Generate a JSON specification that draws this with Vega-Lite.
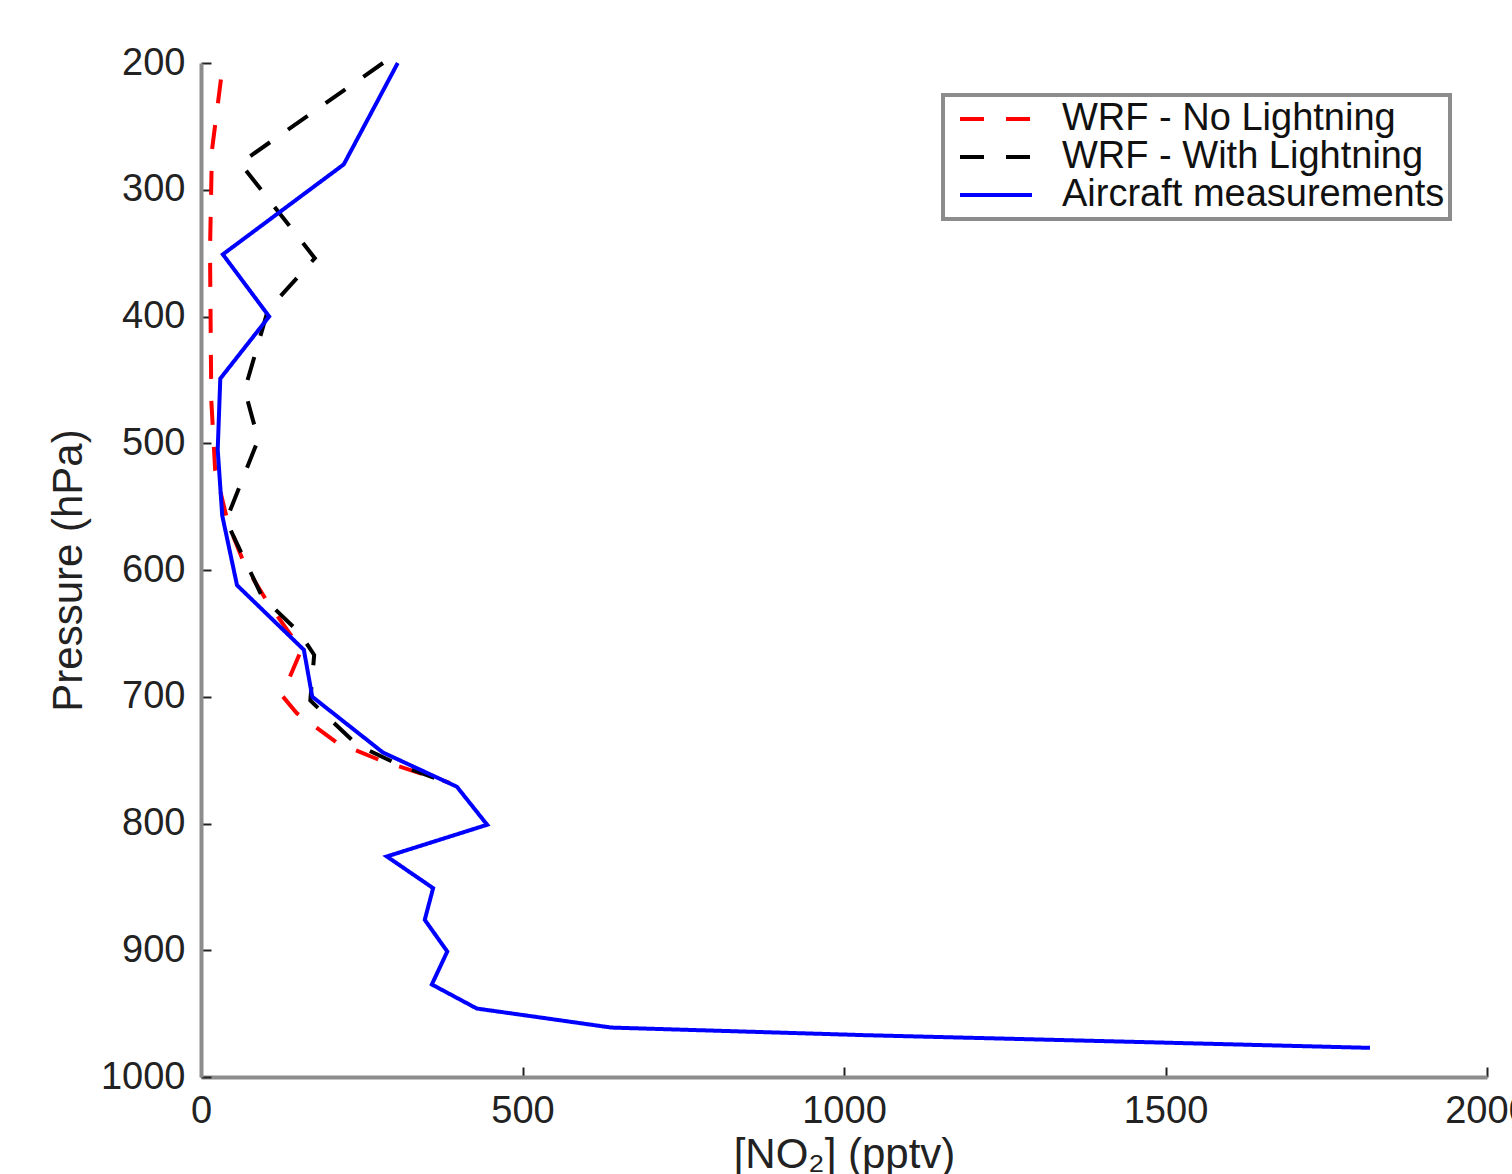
{
  "$schema": "https://vega.github.io/schema/vega-lite/v6.json",
  "width": 1286,
  "height": 1014,
  "autosize": {"type": "none"},
  "padding": {"left": 201, "top": 63, "right": 25, "bottom": 97},
  "background": "white",
  "config": {
    "view": {"stroke": null},
    "font": "Liberation Sans",
    "axis": {
      "domainColor": "#8c8c8c",
      "domainWidth": 4,
      "tickColor": "#222222",
      "tickWidth": 2,
      "tickSize": -10,
      "labelFont": "Liberation Sans",
      "labelFontSize": 38,
      "labelColor": "#222222",
      "titleFont": "Liberation Sans",
      "titleFontSize": 42,
      "titleFontWeight": "normal",
      "titleColor": "#222222",
      "grid": false
    }
  },
  "data": {
    "values": [
      {"series": "WRF - No Lightning", "no2": 31, "p": 213},
      {"series": "WRF - No Lightning", "no2": 17, "p": 269},
      {"series": "WRF - No Lightning", "no2": 14, "p": 348},
      {"series": "WRF - No Lightning", "no2": 16, "p": 466},
      {"series": "WRF - No Lightning", "no2": 22, "p": 521},
      {"series": "WRF - No Lightning", "no2": 42, "p": 563},
      {"series": "WRF - No Lightning", "no2": 68, "p": 596},
      {"series": "WRF - No Lightning", "no2": 103, "p": 625},
      {"series": "WRF - No Lightning", "no2": 156, "p": 663},
      {"series": "WRF - No Lightning", "no2": 126, "p": 699},
      {"series": "WRF - No Lightning", "no2": 149, "p": 713},
      {"series": "WRF - No Lightning", "no2": 211, "p": 736},
      {"series": "WRF - No Lightning", "no2": 278, "p": 750},
      {"series": "WRF - No Lightning", "no2": 387, "p": 768},
      {"series": "WRF - With Lightning", "no2": 283, "p": 200},
      {"series": "WRF - With Lightning", "no2": 61, "p": 279},
      {"series": "WRF - With Lightning", "no2": 177, "p": 354},
      {"series": "WRF - With Lightning", "no2": 104, "p": 395},
      {"series": "WRF - With Lightning", "no2": 68, "p": 458},
      {"series": "WRF - With Lightning", "no2": 89, "p": 497},
      {"series": "WRF - With Lightning", "no2": 39, "p": 561},
      {"series": "WRF - With Lightning", "no2": 95, "p": 621},
      {"series": "WRF - With Lightning", "no2": 154, "p": 650},
      {"series": "WRF - With Lightning", "no2": 176, "p": 667},
      {"series": "WRF - With Lightning", "no2": 170, "p": 703},
      {"series": "WRF - With Lightning", "no2": 243, "p": 738},
      {"series": "WRF - With Lightning", "no2": 309, "p": 754},
      {"series": "WRF - With Lightning", "no2": 395, "p": 770},
      {"series": "Aircraft measurements", "no2": 306, "p": 200},
      {"series": "Aircraft measurements", "no2": 222, "p": 280},
      {"series": "Aircraft measurements", "no2": 34, "p": 351},
      {"series": "Aircraft measurements", "no2": 106, "p": 400},
      {"series": "Aircraft measurements", "no2": 30, "p": 449},
      {"series": "Aircraft measurements", "no2": 26, "p": 505},
      {"series": "Aircraft measurements", "no2": 33, "p": 557},
      {"series": "Aircraft measurements", "no2": 56, "p": 612},
      {"series": "Aircraft measurements", "no2": 160, "p": 663},
      {"series": "Aircraft measurements", "no2": 173, "p": 700},
      {"series": "Aircraft measurements", "no2": 283, "p": 744},
      {"series": "Aircraft measurements", "no2": 398, "p": 771},
      {"series": "Aircraft measurements", "no2": 445, "p": 801},
      {"series": "Aircraft measurements", "no2": 289, "p": 826},
      {"series": "Aircraft measurements", "no2": 361, "p": 851},
      {"series": "Aircraft measurements", "no2": 348, "p": 876},
      {"series": "Aircraft measurements", "no2": 383, "p": 901},
      {"series": "Aircraft measurements", "no2": 359, "p": 927},
      {"series": "Aircraft measurements", "no2": 429, "p": 946},
      {"series": "Aircraft measurements", "no2": 527, "p": 953},
      {"series": "Aircraft measurements", "no2": 638, "p": 961},
      {"series": "Aircraft measurements", "no2": 1033, "p": 967},
      {"series": "Aircraft measurements", "no2": 1429, "p": 972},
      {"series": "Aircraft measurements", "no2": 1818, "p": 977}
    ]
  },
  "mark": {"type": "line", "strokeWidth": 4, "clip": false},
  "encoding": {
    "x": {
      "field": "no2",
      "type": "quantitative",
      "scale": {"domain": [0, 2000], "nice": false, "zero": false},
      "axis": {"values": [0, 500, 1000, 1500, 2000], "format": "d", "title": "[NO₂] (pptv)", "labelPadding": 25, "titlePadding": 4, "labelFlush": false}
    },
    "y": {
      "field": "p",
      "type": "quantitative",
      "scale": {"domain": [200, 1000], "reverse": true, "nice": false, "zero": false},
      "axis": {"values": [200, 300, 400, 500, 600, 700, 800, 900, 1000], "format": "d", "title": "Pressure (hPa)", "labelPadding": 26, "titlePadding": 10, "labelFlush": false}
    },
    "order": {"field": "p", "type": "quantitative"},
    "color": {
      "field": "series",
      "type": "nominal",
      "scale": {
        "domain": ["WRF - No Lightning", "WRF - With Lightning", "Aircraft measurements"],
        "range": ["#ff0000", "#000000", "#0000ff"]
      },
      "legend": {
        "title": null,
        "orient": "none",
        "legendX": 742,
        "legendY": 32,
        "direction": "vertical",
        "strokeColor": "#8c8c8c",
        "fillColor": "white",
        "padding": 5,
        "symbolType": "M-3,0H3",
        "symbolSize": 576,
        "symbolOffset": 29,
        "symbolStrokeWidth": 4,
        "labelFontSize": 38,
        "labelFont": "Liberation Sans",
        "labelColor": "#111111",
        "labelOffset": 47,
        "labelLimit": 600,
        "rowPadding": -5,
        "encode": {"legend": {"update": {"strokeWidth": {"value": 4}}}}
      }
    },
    "strokeDash": {
      "field": "series",
      "type": "nominal",
      "scale": {
        "domain": ["WRF - No Lightning", "WRF - With Lightning", "Aircraft measurements"],
        "range": [[24, 22], [24, 22], [1, 0]]
      },
      "legend": null
    }
  }
}
